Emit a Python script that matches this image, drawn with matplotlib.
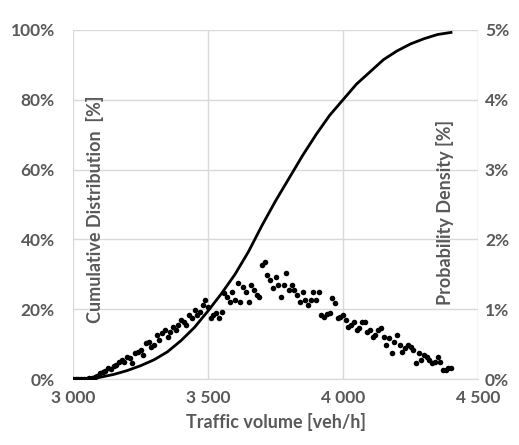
import matplotlib
matplotlib.use("Agg")
import matplotlib.pyplot as plt
from matplotlib.ticker import FuncFormatter, MultipleLocator

plt.rcParams['font.family'] = ['Lato', 'DejaVu Sans']

# cumulative distribution [%], sampled every 50 veh/h
cum_volume = [3000, 3050, 3100, 3150, 3200, 3250, 3300, 3350, 3400, 3450,
              3500, 3550, 3600, 3650, 3700, 3750, 3800, 3850, 3900, 3950,
              4000, 4050, 4100, 4150, 4200, 4250, 4300, 4350, 4400]
cum_pct = [0.0, 0.1, 0.5, 1.3, 2.4, 3.8, 5.5, 7.8, 11.0, 14.8,
           19.5, 24.5, 30.0, 36.5, 44.0, 51.0, 57.5, 64.0, 70.0, 75.5,
           80.0, 84.5, 88.0, 91.5, 94.0, 96.0, 97.5, 98.7, 99.3]

# probability density [%], one value per 10 veh/h from 3000 to 4400
dens_start = 3000
dens_step = 10
dens_pct = [
    0.00, 0.00, 0.00, 0.00, 0.00, 0.00, 0.01, 0.02,
    0.03, 0.05, 0.08, 0.10, 0.12, 0.16, 0.14, 0.19,
    0.20, 0.24, 0.27, 0.25, 0.32, 0.30, 0.23, 0.37,
    0.39, 0.42, 0.34, 0.52, 0.53, 0.46, 0.49, 0.63,
    0.56, 0.66, 0.70, 0.60, 0.67, 0.75, 0.70, 0.77,
    0.85, 0.82, 0.78, 0.92, 0.87, 0.99, 0.92, 0.96,
    1.06, 1.13, 1.03, 0.87, 0.92, 0.95, 0.88, 0.96,
    1.23, 1.17, 1.10, 1.25, 1.13, 1.38, 1.10, 1.32,
    1.25, 1.10, 1.35, 1.27, 1.20, 1.17, 1.63, 1.68,
    1.49, 1.42, 1.30, 1.46, 1.35, 1.17, 1.35, 1.52,
    1.28, 1.35, 1.27, 1.20, 1.10, 1.25, 1.13, 1.06,
    1.13, 1.25, 1.13, 1.25, 0.92, 0.89, 0.93, 0.95,
    1.16, 1.09, 0.87, 0.89, 0.92, 0.85, 0.75, 0.77,
    0.82, 0.70, 0.73, 0.82, 0.82, 0.67, 0.70, 0.60,
    0.63, 0.70, 0.73, 0.60, 0.49, 0.59, 0.37, 0.53,
    0.63, 0.49, 0.39, 0.44, 0.49, 0.46, 0.42, 0.23,
    0.37, 0.27, 0.34, 0.32, 0.27, 0.23, 0.24, 0.32,
    0.24, 0.13, 0.13, 0.16, 0.16,
]
dens_volume = [dens_start + i * dens_step for i in range(len(dens_pct))]

gray = '#595959'
grid = '#d9d9d9'

fig = plt.figure(figsize=(5.19, 4.45), dpi=100)
ax = fig.add_axes([0.1407, 0.1483, 0.7803, 0.7843])
ax2 = ax.twinx()

ax.plot(cum_volume, cum_pct, color='black', lw=2, zorder=3)
ax2.scatter(dens_volume, dens_pct, s=16, color='black', zorder=3, linewidths=0)

ax.set_xlim(3000, 4500)
ax.set_ylim(0, 100)
ax2.set_ylim(0, 5)
ax.xaxis.set_major_locator(MultipleLocator(500))
ax.yaxis.set_major_locator(MultipleLocator(20))
ax2.yaxis.set_major_locator(MultipleLocator(1))

ax.xaxis.set_major_formatter(FuncFormatter(lambda v, p: f'{int(v):,}'.replace(',', ' ')))
ax.yaxis.set_major_formatter(FuncFormatter(lambda v, p: f'{int(v)}%'))
ax2.yaxis.set_major_formatter(FuncFormatter(lambda v, p: f'{int(v)}%'))

ax.grid(True, color=grid, lw=1)
ax.set_axisbelow(True)
for a in (ax, ax2):
    for s in ('top', 'left', 'right'):
        a.spines[s].set_visible(False)
    a.spines['bottom'].set_color(grid)
    a.tick_params(length=0, labelsize=12.5, labelcolor=gray)
    for lbl in a.get_xticklabels() + a.get_yticklabels():
        lbl.set_fontweight('bold')
ax.tick_params(axis='x', pad=8)
ax.tick_params(axis='y', pad=13)
ax2.tick_params(axis='y', pad=5)

ax.set_xlabel('Traffic volume [veh/h]', fontsize=13, fontweight='bold', color=gray, labelpad=5)
fig.text(95 / 519, 1 - 209 / 445, 'Cumulative Distribution  [%]', rotation=90,
         ha='center', va='center', fontsize=13, fontweight='bold', color=gray)
fig.text(445 / 519, 1 - 212 / 445, 'Probability Density [%]', rotation=90,
         ha='center', va='center', fontsize=13, fontweight='bold', color=gray)

fig.savefig('out.png', dpi=100)
